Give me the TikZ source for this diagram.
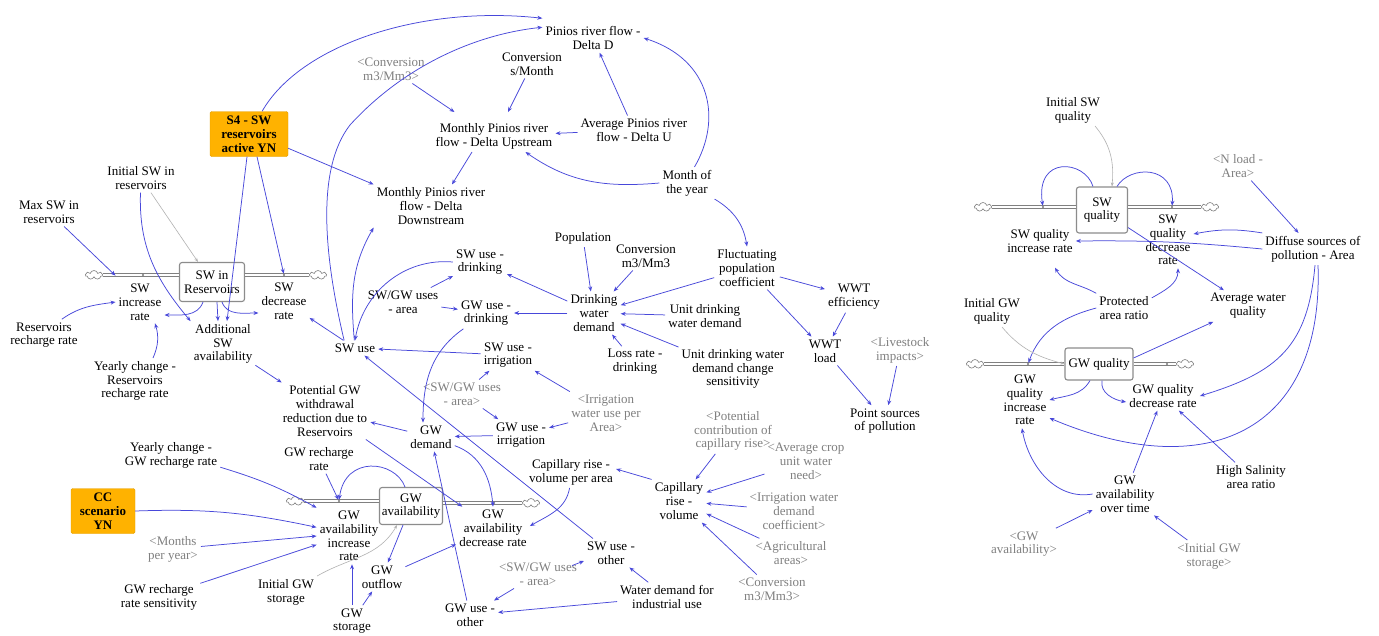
\documentclass[tikz,border=0pt]{standalone}
\usepackage{fontspec}
\setmainfont{Liberation Serif}
\usetikzlibrary{arrows.meta,shapes.symbols}
\definecolor{linkblue}{RGB}{72,72,218}
\definecolor{switchorange}{RGB}{255,178,0}
\newcommand{\varfont}{\fontsize{13}{13.8}\selectfont}
\begin{document}
\begin{tikzpicture}[x=1pt, y=1pt,
  var/.style={align=center, inner sep=3pt, font=\varfont, text=black},
  shadowvar/.style={var, text=black!50},
  stock/.style={draw=black!45, line width=1.1pt, rounded corners=2.5pt, fill=white, align=center, inner sep=2pt, font=\varfont},
  switchbox/.style={fill=switchorange, draw=switchorange!90!black, line width=0.4pt, rounded corners=1.5pt, align=center, inner sep=2pt, font=\varfont\bfseries},
  link/.style={draw=linkblue, line width=0.75pt, -{Stealth[length=5pt,width=4pt]}},
  init/.style={draw=black!30, line width=0.6pt, -{Stealth[length=4pt,width=3pt]}},
  pipe/.style={draw=black!50, double=white, double distance=2pt, line width=0.7pt},
  puff/.style={cloud, cloud puffs=7, aspect=2, draw=black!50, fill=white, minimum width=17pt, minimum height=9pt, inner sep=0pt, line width=0.6pt},
  valve/.style={circle, fill=black!55, inner sep=0pt, minimum size=2.2pt},
]
\fill[white] (0,0) rectangle (1379,-635);
\useasboundingbox (0,0) rectangle (1379,-635);

% ---------- switches ----------
\node[switchbox, minimum width=78pt, minimum height=45pt] (s4) at (249,-134) {S4 - SW\\reservoirs\\active YN};
\node[switchbox, minimum width=64pt, minimum height=45pt] (cc) at (103,-511) {CC\\scenario\\YN};

% ---------- stocks ----------
\node[stock, minimum width=65pt, minimum height=39pt] (swRes) at (212,-282) {SW in\\Reservoirs};
\node[stock, minimum width=63pt, minimum height=37pt] (gwAv) at (411,-506) {GW\\availability};
\node[stock, minimum width=51pt, minimum height=46pt] (swq) at (1102,-210) {SW\\quality};
\node[stock, minimum width=68pt, minimum height=32pt] (gwq) at (1099,-364) {GW quality};

% ---------- clouds ----------
\node[puff] (cSWa) at (94,-275) {};
\node[puff] (cSWb) at (318,-275) {};
\node[puff] (cGWa) at (295,-501) {};
\node[puff] (cGWb) at (531,-503) {};
\node[puff] (cSQa) at (983,-207) {};
\node[puff] (cSQb) at (1210,-207) {};
\node[puff] (cGQa) at (975,-364) {};
\node[puff] (cGQb) at (1185,-364) {};

% ---------- pipes ----------
\draw[pipe] (cSWa.east) -- (cSWa.east -| swRes.west);
\draw[pipe] (cSWb.west -| swRes.east) -- (cSWb.west);
\draw[pipe] (cGWa.east) -- (cGWa.east -| gwAv.west);
\draw[pipe] (cGWb.west -| gwAv.east) -- (cGWb.west);
\draw[pipe] (cSQa.east) -- (cSQa.east -| swq.west);
\draw[pipe] (cSQb.west -| swq.east) -- (cSQb.west);
\draw[pipe] (cGQa.east) -- (cGQa.east -| gwq.west);
\draw[pipe] (cGQb.west -| gwq.east) -- (cGQb.west);

% ---------- valves ----------
\node[valve] (vSWin) at (143,-275) {};
\node[valve] (vSWout) at (284,-275) {};
\node[valve] (vGWin) at (339,-501) {};
\node[valve] (vGWout) at (494,-503) {};
\node[valve] (vSQin) at (1043,-207) {};
\node[valve] (vSQout) at (1172,-207) {};
\node[valve] (vGQin) at (1028,-364) {};
\node[valve] (vGQout) at (1167,-364) {};

% ---------- river flow block ----------
\node[var] (pinD) at (593,-38) {Pinios river flow -\\Delta D};
\node[shadowvar] (convM) at (391,-69) {<Conversion\\m3/Mm3>};
\node[var] (convS) at (532,-64) {Conversion\\s/Month};
\node[var] (avgU) at (634,-130) {Average Pinios river\\flow - Delta U};
\node[var] (monU) at (494,-136) {Monthly Pinios river\\flow - Delta Upstream};
\node[var] (monD) at (431,-206) {Monthly Pinios river\\flow - Delta\\Downstream};
\node[var] (month) at (687,-183) {Month of\\the year};

% ---------- reservoirs ----------
\node[var] (initSW) at (141,-178) {Initial SW in\\reservoirs};
\node[var] (maxSW) at (49,-212) {Max SW in\\reservoirs};
\node[var] (swInc) at (140,-302) {SW\\increase\\rate};
\node[var] (swDec) at (284,-301) {SW\\decrease\\rate};
\node[var] (resRech) at (44,-335) {Reservoirs\\recharge rate};
\node[var] (yearlyRes) at (135,-381) {Yearly change -\\Reservoirs\\recharge rate};
\node[var] (addSW) at (223,-344) {Additional\\SW\\availability};
\node[var] (potGW) at (325,-411) {Potential GW\\withdrawal\\reduction due to\\Reservoirs};

% ---------- uses ----------
\node[var] (swUse) at (355,-348) {SW use};
\node[var] (swGwArea) at (403,-302) {SW/GW uses\\- area};
\node[var] (swDrink) at (480,-262) {SW use -\\drinking};
\node[var] (gwDrink) at (486,-313) {GW use -\\drinking};
\node[var] (swIrr) at (508,-355) {SW use -\\irrigation};
\node[shadowvar] (swGwArea2) at (462,-394) {<SW/GW uses\\- area>};
\node[shadowvar] (irrUse) at (606,-413) {<Irrigation\\water use per\\Area>};
\node[var] (gwIrr) at (521,-435) {GW use -\\irrigation};
\node[var] (gwDemand) at (431,-437) {GW\\demand};
\node[var] (drinkDem) at (594,-313) {Drinking\\water\\demand};
\node[var] (population) at (583,-238) {Population};
\node[var] (convMM) at (646,-256) {Conversion\\m3/Mm3};
\node[var] (fluct) at (747,-268) {Fluctuating\\population\\coefficient};
\node[var] (unitDrink) at (705,-316) {Unit drinking\\water demand};
\node[var] (lossRate) at (635,-362) {Loss rate -\\drinking};
\node[var] (unitChange) at (733,-369) {Unit drinking water\\demand change\\sensitivity};
\node[var] (wwtEff) at (854,-297) {WWT\\efficiency};
\node[var] (wwtLoad) at (825,-351) {WWT\\load};
\node[shadowvar] (livestock) at (900,-350) {<Livestock\\impacts>};
\node[var] (pointSrc) at (885,-421) {Point sources\\of pollution};

% ---------- capillary rise ----------
\node[shadowvar] (potCap) at (733,-431) {<Potential\\contribution of\\capillary rise>};
\node[shadowvar] (avgCrop) at (806,-461) {<Average crop\\unit water\\need>};
\node[shadowvar] (irrDemCoef) at (794,-511) {<Irrigation water\\demand\\coefficient>};
\node[shadowvar] (agrArea) at (791,-553) {<Agricultural\\areas>};
\node[shadowvar] (convMM2) at (772,-589) {<Conversion\\m3/Mm3>};
\node[var] (capVol) at (679,-501) {Capillary\\rise -\\volume};
\node[var] (capArea) at (571,-472) {Capillary rise -\\volume per area};
\node[var] (swOther) at (611,-553) {SW use -\\other};
\node[shadowvar] (swGwArea3) at (538,-574) {<SW/GW uses\\- area>};
\node[var] (waterInd) at (667,-597) {Water demand for\\industrial use};
\node[var] (gwOther) at (470,-615) {GW use -\\other};

% ---------- groundwater availability ----------
\node[var] (gwDec) at (493,-528) {GW\\availability\\decrease rate};
\node[var] (gwInc) at (349,-536) {GW\\availability\\increase\\rate};
\node[var] (gwRech) at (319,-459) {GW recharge\\rate};
\node[var] (yearlyGW) at (171,-455) {Yearly change -\\GW recharge rate};
\node[shadowvar] (months) at (173,-549) {<Months\\per year>};
\node[var] (gwRechSens) at (159,-597) {GW recharge\\rate sensitivity};
\node[var] (initGW) at (286,-592) {Initial GW\\storage};
\node[var] (gwOut) at (382,-577) {GW\\outflow};
\node[var] (gwStor) at (352,-621) {GW\\storage};

% ---------- water quality ----------
\node[var] (initSWq) at (1073,-110) {Initial SW\\quality};
\node[var] (swqInc) at (1040,-241) {SW quality\\increase rate};
\node[var] (swqDec) at (1168,-240) {SW\\quality\\decrease\\rate};
\node[shadowvar] (nload) at (1238,-166) {<N load -\\Area>};
\node[var] (diffuse) at (1313,-249) {Diffuse sources of\\pollution - Area};
\node[var] (protected) at (1124,-308) {Protected\\area ratio};
\node[var] (avgWQ) at (1248,-306) {Average water\\quality};
\node[var] (initGWq) at (992,-311) {Initial GW\\quality};
\node[var] (gwqInc) at (1025,-400) {GW\\quality\\increase\\rate};
\node[var] (gwqDec) at (1163,-396) {GW quality\\decrease rate};
\node[var] (highSal) at (1251,-477) {High Salinity\\area ratio};
\node[var] (gwAvTime) at (1125,-494) {GW\\availability\\over time};
\node[shadowvar] (gwAvailS) at (1024,-544) {<GW\\availability>};
\node[shadowvar] (initGWst) at (1209,-556) {<Initial GW\\storage>};

% ================= links =================
% river flow
\draw[link] (s4.60) .. controls (300,-45) and (420,-5) .. ([yshift=5pt]pinD.north west);
\draw[link] (swUse.145) .. controls (325,-260) and (315,-170) .. (350,-125) .. controls (400,-70) and (470,-35) .. ([yshift=-4pt]pinD.north west);
\draw[link] (s4.-20) -- (monD.north west);
\draw[link] ([xshift=-22pt]monU.south) -- ([xshift=21pt]monD.north);
\draw[link] (convM) -- ([xshift=22pt,yshift=8pt]monU.north west);
\draw[link] (convS) -- ([xshift=14pt,yshift=8pt]monU.north);
\draw[link] (avgU) -- (monU);
\draw[link] (avgU) -- (pinD);
\draw[link] (month.65) .. controls (722,-120) and (712,-60) .. (pinD.east);
\draw[link] (month.west) to[out=185,in=-35] ([xshift=-30pt]monU.south east);
\draw[link] (month.south east) to[bend left=25] (fluct.north);

% population and pollution
\draw[link] (fluct) -- (wwtEff);
\draw[link] (fluct) -- (wwtLoad);
\draw[link] (wwtEff) -- (wwtLoad);
\draw[link] (wwtLoad) -- (pointSrc);
\draw[link] (livestock) -- (pointSrc);
\draw[link] (fluct) -- (drinkDem);
\draw[link] (population) -- (drinkDem);
\draw[link] (convMM) -- (drinkDem);
\draw[link] (unitDrink) -- (drinkDem);
\draw[link] (unitChange) -- (drinkDem);
\draw[link] (lossRate) -- (drinkDem);

% uses
\draw[link] (drinkDem) -- (swDrink);
\draw[link] (drinkDem) -- (gwDrink);
\draw[link] (swGwArea) -- (swDrink);
\draw[link] (swGwArea) -- (gwDrink);
\draw[link] (gwDrink) to[out=-145,in=90] ([xshift=-8pt]gwDemand.north);
\draw[link] (swDrink.west) to[out=175,in=80] (swUse.north);
\draw[link] (swUse) to[out=95,in=-120] (monD.south west);
\draw[link] (swIrr) -- (swUse);
\draw[link] (swOther) -- (swUse);
\draw[link] (swUse) -- (swDec);
\draw[link] (swGwArea2) -- (swIrr);
\draw[link] (swGwArea2) -- (gwIrr);
\draw[link] (irrUse) -- (swIrr);
\draw[link] (irrUse) -- (gwIrr);
\draw[link] (gwIrr) -- (gwDemand);
\draw[link] (gwDemand) -- (potGW);
\draw[link] (addSW) -- (potGW);
\draw[link] (potGW) -- (gwDec);
\draw[link] (gwDemand) to[out=-20,in=95] (gwDec.north);
\draw[link] (gwOther) -- (gwDemand);
\draw[link] ([xshift=-8pt,yshift=-6pt]swGwArea3.north east) -- ([yshift=-8pt]swOther.west);
\draw[link] (swGwArea3) -- (gwOther);
\draw[link] (waterInd) -- (swOther);
\draw[link] (waterInd) -- (gwOther);

% capillary rise
\draw[link] (capArea.-95) to[out=-100,in=30] ([yshift=2pt]gwDec.east);
\draw[link] (capVol.north west) -- ([yshift=3pt]capArea.east);
\draw[link] (potCap) -- (capVol);
\draw[link] (avgCrop) -- (capVol);
\draw[link] (irrDemCoef) -- (capVol);
\draw[link] (agrArea) -- (capVol);
\draw[link] (convMM2) -- (capVol);

% reservoirs
\draw[link] (s4.265) -- ([xshift=4pt]addSW.north);
\draw[link] ([xshift=8pt]s4.south) -- (vSWout);
\draw[link] (maxSW) -- ([yshift=5pt]swInc.north west);
\draw[init] (initSW) -- ([xshift=-14pt]swRes.north);
\draw[link] (initSW.-92) to[out=-92,in=130] (addSW.north west);
\draw[link] ([xshift=-19pt]resRech.north east) to[out=35,in=188] (swInc.west);
\draw[link] ([xshift=18pt]yearlyRes.north) to[bend right=20] ([xshift=15pt]swInc.south);
\draw[link] ([xshift=-9pt]swRes.south) to[out=-110,in=0] ([yshift=-13pt]swInc.east);
\draw[link] ([xshift=5pt]swRes.south) -- ([xshift=-5pt]addSW.north);
\draw[link] ([xshift=10pt]swRes.south) to[out=-70,in=180] ([yshift=-12pt]swDec.west);

% groundwater availability
\draw[link] ([xshift=-6pt]gwAv.north) .. controls (395,-460) and (345,-455) .. (vGWin);
\draw[link] (gwRech) -- (vGWin);
\draw[link] (yearlyGW) to[bend left=6] (gwInc.north west);
\draw[link] (cc.east) to[out=2,in=168] (gwInc.165);
\draw[link] (months) -- (gwInc.west);
\draw[link] (gwRechSens) -- (gwInc.195);
\draw[link] (gwStor.north) -- (gwStor.north |- gwInc.south);
\draw[link] (gwStor) -- (gwOut);
\draw[link] ([xshift=-8pt]gwAv.south) -- (gwOut);
\draw[link] (gwOut) -- (gwDec);
\draw[init] (initGW.north east) to[out=30,in=-120] ([xshift=-14pt]gwAv.south);

% water quality
\draw[init] ([xshift=22pt]initSWq.south) to[out=-50,in=85] ([xshift=10pt]swq.north);
\draw[link] ([xshift=-9pt]swq.north) .. controls (1085,-160) and (1035,-155) .. ([xshift=-16pt]vSQin);
\draw[link] ([xshift=15pt]swq.north) .. controls (1130,-165) and (1175,-165) .. ([xshift=5pt,yshift=-3pt]vSQout);
\draw[link] ([yshift=6pt]swq.south east) -- (avgWQ);
\draw[link] (diffuse.north west) to[bend right=10] ([yshift=6pt]swqDec.east);
\draw[link] (diffuse.west) to[bend right=3] (swqInc.east);
\draw[link] (nload) -- (diffuse);
\draw[link] (protected.north west) to[out=150,in=-60] ([xshift=15pt,yshift=-12pt]swqInc.south);
\draw[link] (protected.20) to[out=30,in=-90] ([xshift=10pt]swqDec.south);
\draw[link] (protected.west) to[out=195,in=70] (vGQin);
\draw[link] ([yshift=6pt]gwq.east) -- (avgWQ);
\draw[link] ([xshift=-9pt]gwq.south) to[out=-120,in=15] (gwqInc.east);
\draw[link] ([xshift=3pt]gwq.south) to[out=-100,in=170] ([yshift=-6pt]gwqDec.west);
\draw[link] ([xshift=2pt]diffuse.south) to[out=-95,in=17,looseness=1.2] (gwqDec.east);
\draw[link] ([xshift=5pt]diffuse.south) to[out=-88,in=-23,looseness=1.4] ([yshift=-18pt]gwqInc.east);
\draw[link] (highSal) -- (gwqDec);
\draw[link] (gwAvTime) -- (gwqDec);
\draw[link] (gwAvTime.west) to[out=190,in=-80] ([xshift=-3pt]gwqInc.south);
\draw[link] (gwAvailS) -- (gwAvTime);
\draw[link] (initGWst) -- (gwAvTime);
\draw[init] ([xshift=10pt]initGWq.south) to[out=-50,in=165] (gwq.west);
\end{tikzpicture}
\end{document}
